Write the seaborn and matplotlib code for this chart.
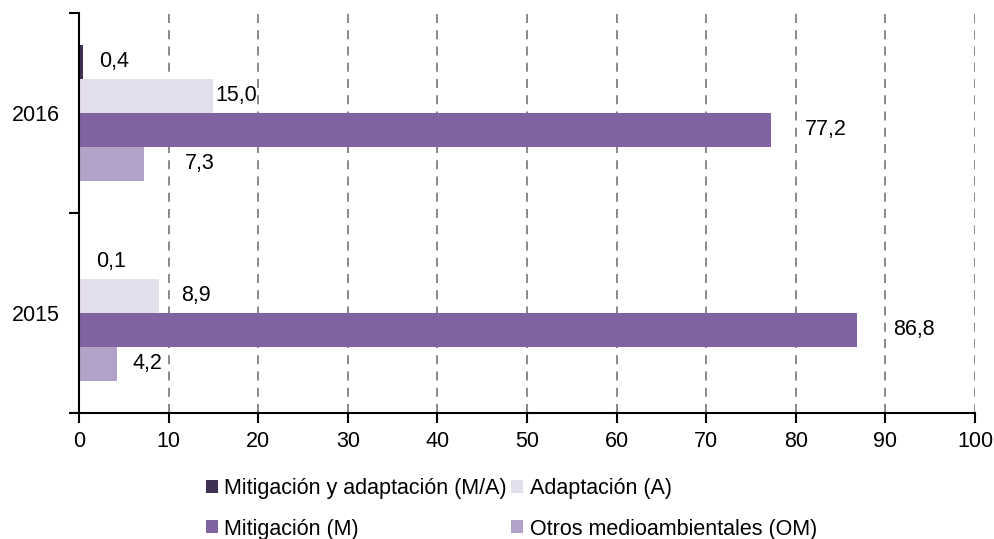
import matplotlib
matplotlib.use("Agg")
import matplotlib.pyplot as plt
from matplotlib.patches import Patch
import seaborn as sns
import pandas as pd

# Values (%) by year and type of climate finance
years = ["2016", "2015"]
categories = ["Mitigación y adaptación (M/A)", "Adaptación (A)",
              "Mitigación (M)", "Otros medioambientales (OM)"]
values_2016 = [0.4, 15.0, 77.2, 7.3]
values_2015 = [0.1, 8.9, 86.8, 4.2]
colors = ["#403152", "#e4dfec", "#8064a2", "#b3a2c7"]
x_ticks = [0, 10, 20, 30, 40, 50, 60, 70, 80, 90, 100]

# horizontal offset (pixels) of each value label from its bar end
label_offsets = {"2016": [17, 2, 34, 40], "2015": [16, 22, 36, 16]}

rows = []
for year, vals in zip(years, [values_2016, values_2015]):
    for cat, v in zip(categories, vals):
        rows.append({"year": year, "cat": cat, "value": v})
df = pd.DataFrame(rows)

FS = 15.5
sns.set_style("white")
plt.rcParams["font.family"] = ["Liberation Sans", "DejaVu Sans"]
plt.rcParams["font.size"] = FS
plt.rcParams["text.color"] = "black"
plt.rcParams["xtick.color"] = "black"
plt.rcParams["ytick.color"] = "black"

fig = plt.figure(figsize=(9.95, 5.39), dpi=100)
ax = fig.add_axes([0.0794, 0.2338, 0.9006, 0.7421])

sns.barplot(data=df, x="value", y="year", hue="cat", order=years,
            hue_order=categories, palette=colors, orient="h",
            width=0.68, linewidth=0, saturation=1, ax=ax, legend=False,
            errorbar=None, zorder=3)

ax.set_xlim(0, 100)
ax.set_ylim(1.5, -0.5)
ax.set_xticks(x_ticks)
ax.set_xlabel("")
ax.set_ylabel("")

ax.xaxis.grid(True, linestyle=(0, (5, 4)), color="#808080", linewidth=1.3, zorder=0)
ax.yaxis.grid(False)
for s in ["top", "right"]:
    ax.spines[s].set_visible(False)
for s in ["left", "bottom"]:
    ax.spines[s].set_color("black")
    ax.spines[s].set_linewidth(1.5)
    ax.spines[s].set_zorder(5)

ax.tick_params(axis="x", which="major", direction="out", length=7, width=1.5,
               color="black", bottom=True, pad=6, labelsize=FS, labelcolor="black")
ax.tick_params(axis="y", which="major", length=0, pad=14, labelsize=FS,
               labelcolor="black")
ax.set_yticks([-0.5, 0.5, 1.5], minor=True)
ax.tick_params(axis="y", which="minor", direction="out", length=7, width=1.5,
               color="black", left=True)

# value labels
for ci, container in enumerate(ax.containers):
    for yi, bar in enumerate(container):
        year = years[yi]
        v = [values_2016, values_2015][yi][ci]
        yc = bar.get_y() + bar.get_height() / 2
        ax.annotate(f"{v:.1f}".replace(".", ","), xy=(v, yc),
                    xytext=(label_offsets[year][ci], 0), textcoords="offset pixels",
                    ha="left", va="center", fontsize=FS, color="black", zorder=6)

handles = [Patch(facecolor=c, edgecolor="none") for c in colors]
order = [0, 2, 1, 3]
fig.legend([handles[i] for i in order], [categories[i] for i in order],
           ncol=2, loc="center", bbox_to_anchor=(0.514, 0.056), frameon=False,
           fontsize=FS, handlelength=0.55, handleheight=0.55, handletextpad=0.3,
           columnspacing=0.2, labelspacing=0.9, borderpad=0)

fig.savefig("out.png", dpi=100)
